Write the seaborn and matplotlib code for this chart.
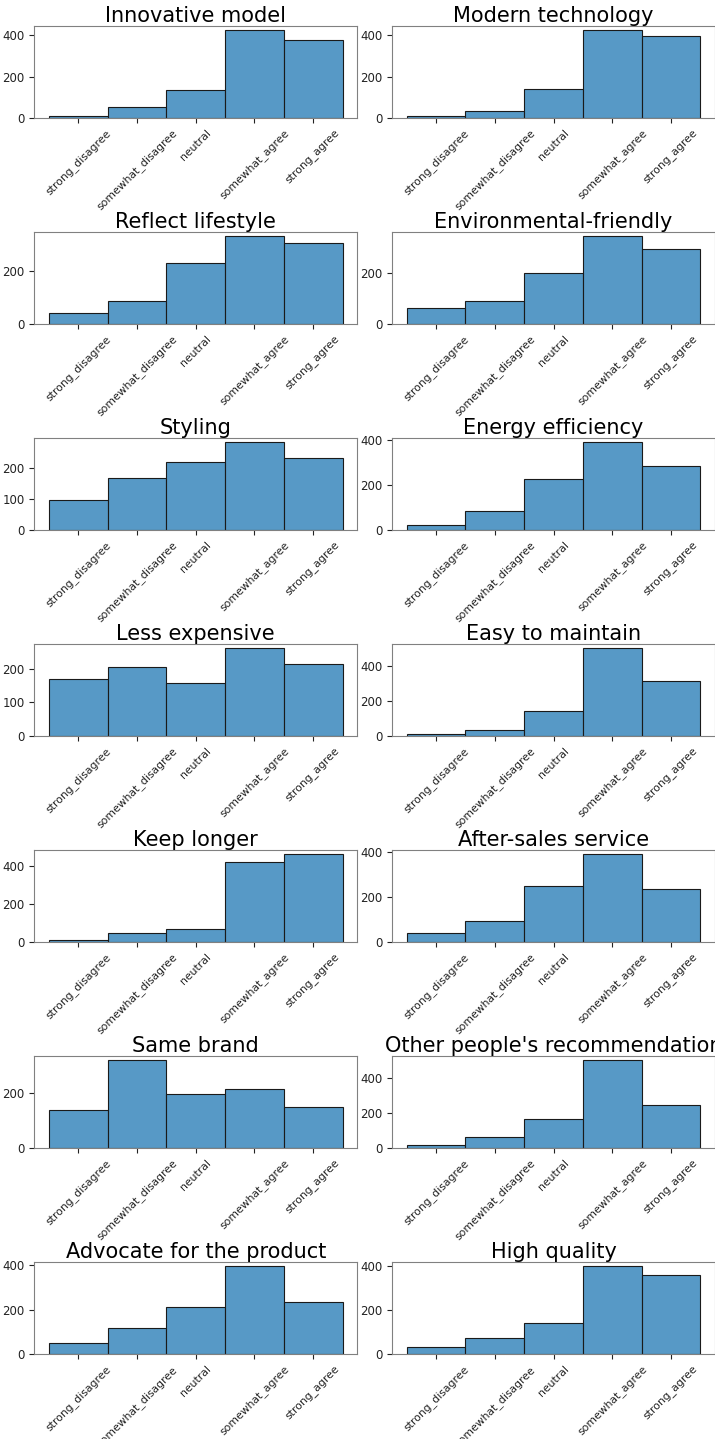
import matplotlib
matplotlib.use('Agg')
import matplotlib.pyplot as plt
from matplotlib.ticker import MaxNLocator
import seaborn as sns
import pandas as pd

# answer levels, in the order they appear on the x axis
levels = ["strong_disagree", "somewhat_disagree", "neutral", "somewhat_agree", "strong_agree"]

# one list of counts per survey question
innovative_model = [11, 52, 135, 425, 376]
modern_technology = [11, 33, 139, 425, 398]
reflect_lifestyle = [41, 88, 231, 333, 306]
environmental_friendly = [65, 92, 203, 347, 296]
styling = [98, 168, 221, 284, 232]
energy_efficiency = [21, 85, 227, 388, 284]
less_expensive = [169, 204, 158, 260, 213]
easy_to_maintain = [12, 37, 145, 502, 313]
keep_longer = [9, 48, 68, 421, 462]
after_sales_service = [40, 94, 249, 390, 237]
same_brand = [137, 316, 195, 212, 149]
other_recommendation = [19, 63, 167, 498, 244]
advocate_product = [50, 118, 212, 394, 233]
high_quality = [32, 74, 144, 400, 359]

titles = ["Innovative model", "Modern technology", "Reflect lifestyle",
          "Environmental-friendly", "Styling", "Energy efficiency",
          "Less expensive", "Easy to maintain", "Keep longer",
          "After-sales service", "Same brand", "Other people's recommendation",
          "Advocate for the product", "High quality"]
counts = [innovative_model, modern_technology, reflect_lifestyle,
          environmental_friendly, styling, energy_efficiency,
          less_expensive, easy_to_maintain, keep_longer,
          after_sales_service, same_brand, other_recommendation,
          advocate_product, high_quality]

fig, axes = plt.subplots(7, 2, figsize=(7.15, 14.39), dpi=100)
fig.subplots_adjust(left=0.048, right=1.0, top=0.982, bottom=0.059,
                    wspace=0.108, hspace=1.24)

for ax, title, vals in zip(axes.flat, titles, counts):
    df = pd.DataFrame({"answer": levels, "n": vals})
    sns.histplot(data=df, x="answer", weights="n", ax=ax,
                 edgecolor="#1a1a1a", linewidth=0.8)
    ax.set_title(title, fontsize=15, pad=2)
    ax.set_xlabel("")
    ax.set_ylabel("")
    # fewer y ticks, like the original (0/200/400 or 0/100/200)
    ax.yaxis.set_major_locator(MaxNLocator(nbins=3, steps=[1, 2, 5, 10]))
    ax.tick_params(axis="y", labelsize=8.5, colors="#222222")
    ax.tick_params(axis="x", labelsize=7.8, colors="#222222", labelrotation=45)
    for sp in ax.spines.values():
        sp.set_color("#808080")

plt.savefig("out.png", dpi=100)
plt.close()
